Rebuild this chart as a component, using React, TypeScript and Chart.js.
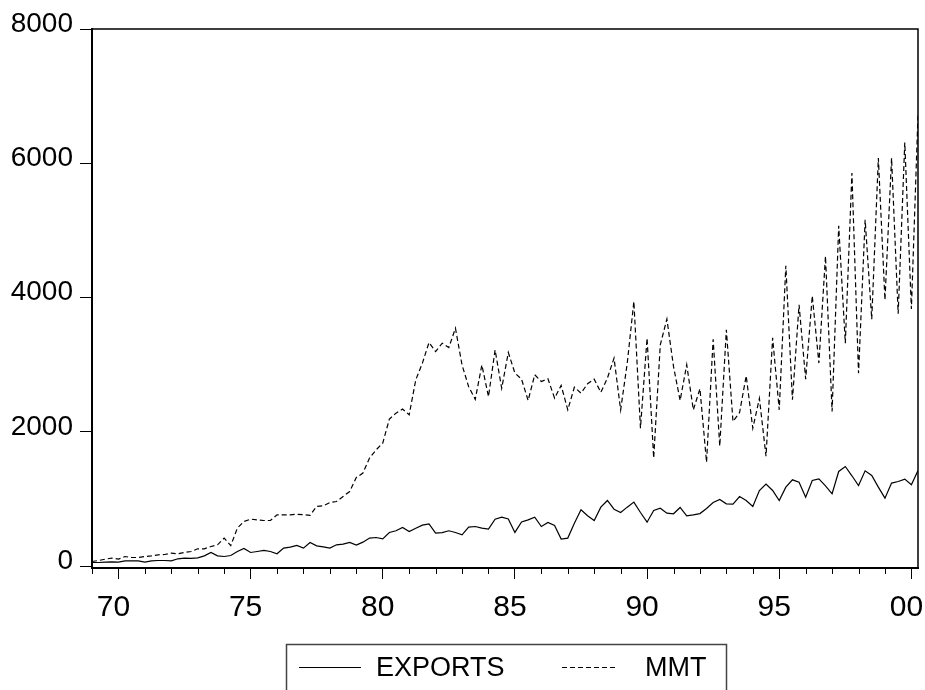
import React, { useEffect, useRef } from "react";
import { Chart, registerables } from "chart.js";

Chart.register(...registerables);

// Quarterly observations, 1969Q1 .. 2000Q2
const START_YEAR = 1969;
const END_YEAR = 2000;
const QUARTERS = 4;

const seriesLabels = ["EXPORTS", "MMT"];

const exportsValues = [
  57, 57, 62, 67, // 1969
  62, 82, 82, 82, // 1970
  62, 82, 87, 87, // 1971
  82, 112, 122, 117, // 1972
  127, 156, 206, 156, // 1973
  146, 161, 221, 266, // 1974
  206, 221, 236, 221, // 1975
  186, 271, 286, 310, // 1976
  271, 355, 305, 290, // 1977
  271, 320, 330, 355, // 1978
  315, 360, 420, 429, // 1979
  409, 503, 529, 578, // 1980
  518, 568, 613, 633, // 1981
  494, 503, 529, 503, // 1982
  469, 584, 593, 568, // 1983
  553, 702, 732, 705, // 1984
  505, 660, 692, 732, // 1985
  593, 652, 608, 405, // 1986
  420, 643, 841, 752, // 1987
  682, 881, 980, 851, // 1988
  801, 881, 956, 801, // 1989
  657, 831, 866, 792, // 1990
  782, 876, 752, 767, // 1991
  785, 860, 950, 995, // 1992
  931, 926, 1039, 980, // 1993
  891, 1129, 1224, 1129, // 1994
  980, 1179, 1288, 1253, // 1995
  1030, 1278, 1303, 1199, // 1996
  1080, 1412, 1486, 1348, // 1997
  1203, 1422, 1352, 1179, // 1998
  1015, 1239, 1263, 1298, // 1999
  1214, 1427, // 2000
];

const mmtValues = [
  72, 87, 107, 122, // 1969
  107, 146, 131, 131, // 1970
  146, 156, 171, 176, // 1971
  196, 186, 206, 221, // 1972
  261, 261, 295, 320, // 1973
  420, 308, 569, 667, // 1974
  703, 692, 682, 682, // 1975
  767, 767, 767, 775, // 1976
  770, 760, 891, 901, // 1977
  950, 965, 1040, 1114, // 1978
  1323, 1388, 1612, 1735, // 1979
  1835, 2192, 2281, 2341, // 1980
  2256, 2777, 3025, 3332, // 1981
  3198, 3322, 3257, 3545, // 1982
  2998, 2675, 2486, 2998, // 1983
  2526, 3222, 2650, 3183, // 1984
  2877, 2787, 2469, 2852, // 1985
  2752, 2792, 2504, 2693, // 1986
  2329, 2668, 2579, 2718, // 1987
  2787, 2589, 2802, 3100, // 1988
  2329, 3025, 3943, 2058, // 1989
  3398, 1612, 3298, 3681, // 1990
  2976, 2469, 3001, 2329, // 1991
  2645, 1550, 3380, 1790, // 1992
  3521, 2156, 2290, 2836, // 1993
  2055, 2501, 1638, 3402, // 1994
  2330, 4474, 2479, 3894, // 1995
  2787, 4027, 3026, 4618, // 1996
  2305, 5070, 3323, 5855, // 1997
  2876, 5159, 3680, 6078, // 1998
  3966, 6078, 3760, 6311, // 1999
  3830, 6723, // 2000
];

const yTickValues = [0, 2000, 4000, 6000, 8000];
const xMajorYears = [1970, 1975, 1980, 1985, 1990, 1995, 2000];
const xTickLabels = ["70", "75", "80", "85", "90", "95", "00"];

const Y_MIN = -25;
const Y_MAX = 8000;

const FONT = '"Liberation Sans", Arial, sans-serif';

const yearIndex = (year: number) => (year - START_YEAR) * QUARTERS;
const majorIndexToLabel = new Map<number, string>();
xMajorYears.forEach((y, i) => majorIndexToLabel.set(yearIndex(y), xTickLabels[i]));

const frameAndMinorTicks = {
  id: "frameAndMinorTicks",
  afterDraw(chart: any) {
    const { ctx, chartArea } = chart;
    const xs = chart.scales.x;
    ctx.save();
    // minor (yearly) ticks
    ctx.strokeStyle = "#000";
    ctx.lineWidth = 1;
    xs.ticks.forEach((t: any) => {
      if (majorIndexToLabel.has(t.value)) return;
      const px = Math.round(xs.getPixelForValue(t.value)) + 0.5;
      ctx.beginPath();
      ctx.moveTo(px, xs.top);
      ctx.lineTo(px, xs.top + 6);
      ctx.stroke();
    });
    // top and right frame
    ctx.lineWidth = 1.5;
    ctx.beginPath();
    ctx.moveTo(chartArea.left, chartArea.top);
    ctx.lineTo(chartArea.right, chartArea.top);
    ctx.lineTo(chartArea.right, chartArea.bottom);
    ctx.stroke();
    ctx.restore();
  },
};

const boxedLegend = {
  id: "boxedLegend",
  afterDraw(chart: any) {
    const { ctx } = chart;
    const ds = chart.data.datasets;
    ctx.save();
    ctx.strokeStyle = "#444";
    ctx.lineWidth = 1.5;
    ctx.strokeRect(286.5, 644.5, 440, 60);
    const rowY = 667.5;
    const items = [
      { x0: 299, x1: 361, tx: 376 },
      { x0: 562, x1: 618, tx: 645 },
    ];
    items.forEach((it, i) => {
      const d = ds[i];
      ctx.strokeStyle = "#000";
      ctx.lineWidth = 1;
      ctx.setLineDash(d.borderDash || []);
      ctx.beginPath();
      ctx.moveTo(it.x0, rowY);
      ctx.lineTo(it.x1, rowY);
      ctx.stroke();
      ctx.setLineDash([]);
      ctx.fillStyle = "#000";
      ctx.font = `27px ${FONT}`;
      ctx.textBaseline = "middle";
      ctx.textAlign = "left";
      ctx.fillText(d.label, it.tx, rowY + 1);
    });
    ctx.restore();
  },
};

export default function App() {
  const canvasRef = useRef<HTMLCanvasElement | null>(null);

  useEffect(() => {
    const canvas = canvasRef.current;
    if (!canvas) return;
    const toPoints = (arr: number[]) => arr.map((v, i) => ({ x: i, y: v }));
    const lastIndex = exportsValues.length - 1;

    const chart = new Chart(canvas, {
      type: "line",
      data: {
        datasets: [
          {
            label: seriesLabels[0],
            data: toPoints(exportsValues),
            borderColor: "#000",
            borderWidth: 1.2,
            pointRadius: 0,
            tension: 0,
            fill: false,
          },
          {
            label: seriesLabels[1],
            data: toPoints(mmtValues),
            borderColor: "#000",
            borderWidth: 1.2,
            borderDash: [5, 3],
            pointRadius: 0,
            tension: 0,
            fill: false,
          },
        ],
      },
      options: {
        animation: false,
        responsive: false,
        devicePixelRatio: 1,
        layout: { padding: { top: 29, right: 7, left: 0, bottom: 0 } },
        plugins: {
          legend: { display: false },
          tooltip: { enabled: false },
        },
        scales: {
          x: {
            type: "linear",
            min: 0,
            max: lastIndex,
            afterBuildTicks: (scale: any) => {
              const ticks = [];
              for (let y = START_YEAR; y <= END_YEAR; y++) ticks.push({ value: yearIndex(y) });
              scale.ticks = ticks;
            },
            afterFit: (scale: any) => {
              scale.height = 122;
              scale.paddingLeft = 0;
              scale.paddingRight = 0;
            },
            ticks: {
              autoSkip: false,
              maxRotation: 0,
              minRotation: 0,
              padding: 11,
              labelOffset: -5,
              color: "#000",
              font: { family: FONT, size: 30 },
              callback: (value: any) => majorIndexToLabel.get(Number(value)) ?? "",
            },
            grid: {
              drawOnChartArea: false,
              drawTicks: true,
              tickLength: 11,
              tickWidth: 1,
              tickColor: (ctx: any) =>
                ctx.tick && majorIndexToLabel.has(ctx.tick.value) ? "#000" : "rgba(0,0,0,0)",
            },
            border: { display: true, color: "#000", width: 2 },
          },
          y: {
            type: "linear",
            min: Y_MIN,
            max: Y_MAX,
            afterBuildTicks: (scale: any) => {
              scale.ticks = yTickValues.map((v) => ({ value: v }));
            },
            afterFit: (scale: any) => {
              scale.width = 92;
              scale.paddingTop = 0;
              scale.paddingBottom = 0;
            },
            ticks: {
              padding: 7,
              labelOffset: -5,
              color: "#000",
              font: { family: FONT, size: 28 },
              callback: (value: any) => String(value),
            },
            grid: {
              drawOnChartArea: false,
              drawTicks: true,
              tickLength: 12,
              tickWidth: 1,
              tickColor: "#000",
            },
            border: { display: true, color: "#000", width: 2 },
          },
        },
      },
      plugins: [frameAndMinorTicks, boxedLegend],
    });

    return () => chart.destroy();
  }, []);

  return (
    <div style={{ position: "fixed", left: 0, top: 0, width: 925, height: 690, background: "#fff" }}>
      <canvas ref={canvasRef} width={925} height={690} />
    </div>
  );
}
